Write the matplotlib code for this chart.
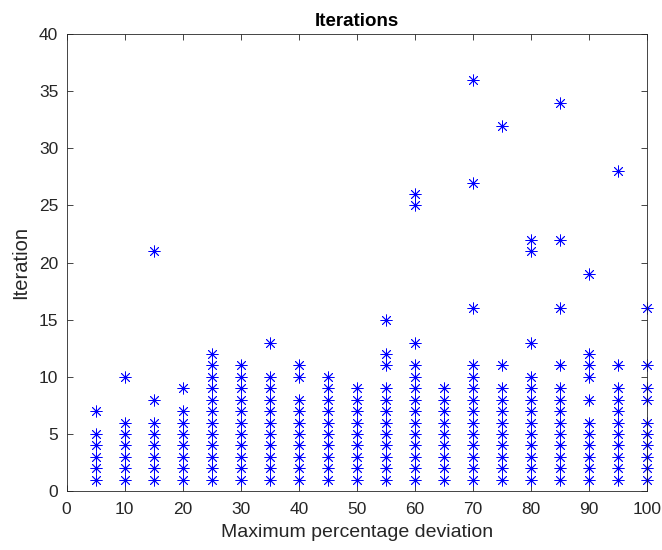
import matplotlib
matplotlib.use("Agg")
import matplotlib.pyplot as plt

# ── Data: iteration counts observed at each max percentage deviation ─────────
deviation = [5, 10, 15, 20, 25, 30, 35, 40, 45, 50,
             55, 60, 65, 70, 75, 80, 85, 90, 95, 100]

iterations = [
    [1, 2, 3, 4, 5, 7],                                   # 5
    [1, 2, 3, 4, 5, 6, 10],                               # 10
    [1, 2, 3, 4, 5, 6, 8, 21],                            # 15
    [1, 2, 3, 4, 5, 6, 7, 9],                             # 20
    [1, 2, 3, 4, 5, 6, 7, 8, 9, 10, 11, 12],              # 25
    [1, 2, 3, 4, 5, 6, 7, 8, 9, 10, 11],                  # 30
    [1, 2, 3, 4, 5, 6, 7, 8, 9, 10, 13],                  # 35
    [1, 2, 3, 4, 5, 6, 7, 8, 10, 11],                     # 40
    [1, 2, 3, 4, 5, 6, 7, 8, 9, 10],                      # 45
    [1, 2, 3, 4, 5, 6, 7, 8, 9],                          # 50
    [1, 2, 3, 4, 5, 6, 7, 8, 9, 11, 12, 15],              # 55
    [1, 2, 3, 4, 5, 6, 7, 8, 9, 10, 11, 13, 25, 26],      # 60
    [1, 2, 3, 4, 5, 6, 7, 8, 9],                          # 65
    [1, 2, 3, 4, 5, 6, 7, 8, 9, 10, 11, 16, 27, 36],      # 70
    [1, 2, 3, 4, 5, 6, 7, 8, 9, 11, 32],                  # 75
    [1, 2, 3, 4, 5, 6, 7, 8, 9, 10, 13, 21, 22],          # 80
    [1, 2, 3, 4, 5, 6, 7, 8, 9, 11, 16, 22, 34],          # 85
    [1, 2, 3, 4, 5, 6, 8, 10, 11, 12, 19],                # 90
    [1, 2, 3, 4, 5, 6, 7, 8, 9, 11, 28],                  # 95
    [1, 2, 3, 4, 5, 6, 8, 9, 11, 16],                     # 100
]

x_ticks = [0, 10, 20, 30, 40, 50, 60, 70, 80, 90, 100]
y_ticks = [0, 5, 10, 15, 20, 25, 30, 35, 40]

# flatten into point lists
xs, ys = [], []
for dev, its in zip(deviation, iterations):
    xs.extend([dev] * len(its))
    ys.extend(its)

# ── Plot (MATLAB-ish look) ─────────────────────────────────────────────────────
plt.rcParams["font.family"] = ["Liberation Sans", "DejaVu Sans"]
axis_col = "#262626"

fig = plt.figure(figsize=(6.62, 5.5), dpi=100)
ax = fig.add_axes([0.1007, 0.107, 0.8766, 0.831])

ax.plot(xs, ys, linestyle="none", marker=(8, 2, 0), markersize=8.5,
        markeredgewidth=0.6, color="#0000ff", clip_on=False)

ax.set_xlim(0, 100)
ax.set_ylim(0, 40)
ax.set_xticks(x_ticks)
ax.set_yticks(y_ticks)
ax.tick_params(direction="in", top=True, right=True, length=4,
               width=0.6, colors=axis_col, labelsize=12.5)
ax.tick_params(axis="x", pad=8)
ax.tick_params(axis="y", pad=6)
for sp in ax.spines.values():
    sp.set_color(axis_col)
    sp.set_linewidth(0.6)

ax.set_title("Iterations", fontsize=13.5, fontweight="bold", pad=6)
ax.set_xlabel("Maximum percentage deviation", fontsize=14, color=axis_col, labelpad=5)
ax.set_ylabel("Iteration", fontsize=14.5, color=axis_col, labelpad=6)

fig.savefig("out.png", dpi=100)
plt.close(fig)
